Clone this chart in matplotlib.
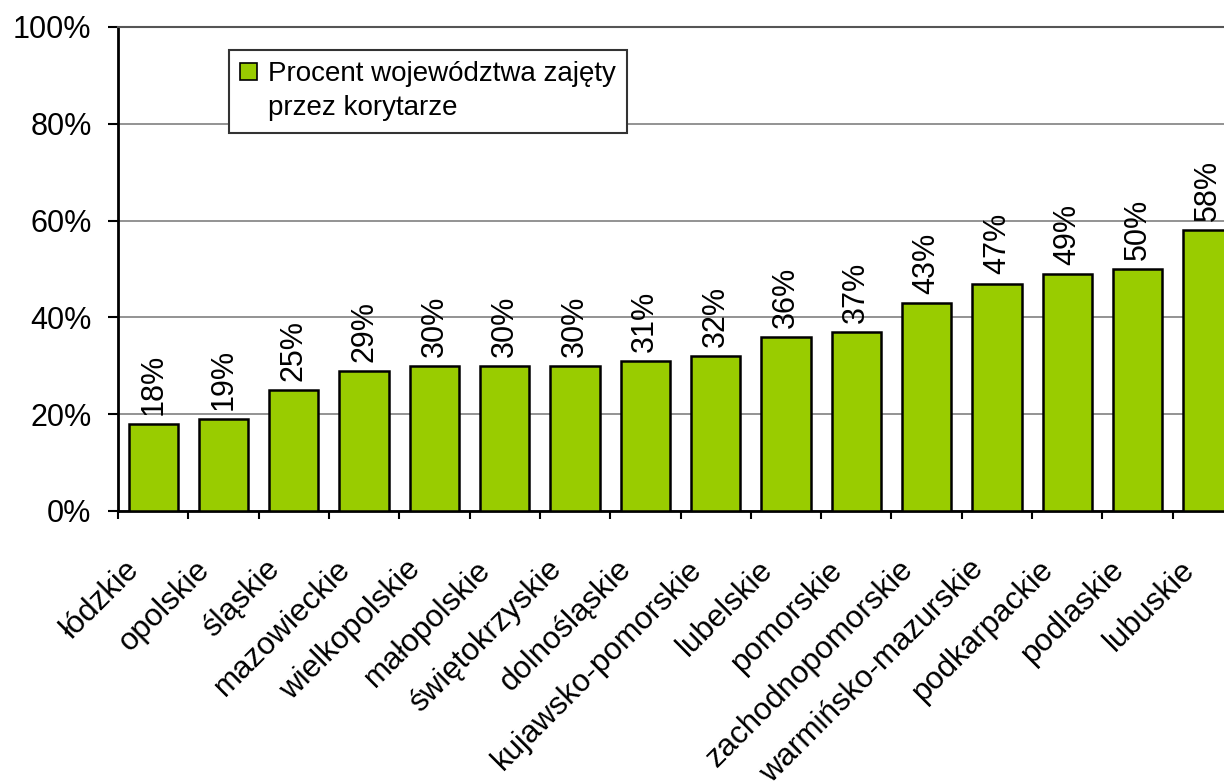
import matplotlib.pyplot as plt
import numpy as np
from matplotlib.patches import Patch
from matplotlib.transforms import offset_copy
from matplotlib.ticker import FuncFormatter

plt.rcParams['font.family'] = ['Liberation Sans', 'DejaVu Sans']

# województwa i udział powierzchni zajętej przez korytarze (%)
regions = ['łódzkie', 'opolskie', 'śląskie', 'mazowieckie', 'wielkopolskie',
           'małopolskie', 'świętokrzyskie', 'dolnośląskie', 'kujawsko-pomorskie',
           'lubelskie', 'pomorskie', 'zachodnopomorskie', 'warmińsko-mazurskie',
           'podkarpackie', 'podlaskie', 'lubuskie']
share = [18, 19, 25, 29, 30, 30, 30, 31, 32, 36, 37, 43, 47, 49, 50, 58]
legend_lines = ['Procent województwa zajęty', 'przez korytarze']

W, H = 1224, 782
fig = plt.figure(figsize=(W / 100, H / 100), dpi=100)
# prawa krawędź wykresu wychodzi poza obraz (ostatni słupek ucięty)
ax = fig.add_axes([118 / W, (H - 511) / H, 1125 / W, (511 - 27) / H])

x = np.arange(len(regions))
bars = ax.bar(x, share, width=0.7, color='#99CC00', edgecolor='black',
              linewidth=1.8, zorder=3)

for xi, v in zip(x, share):
    ax.annotate(f'{v}%', (xi, v), xytext=(0, 6.5), textcoords='offset points',
                rotation=90, ha='center', va='bottom', fontsize=22, zorder=4)

ax.set_xlim(-0.5, len(regions) - 0.5)
ax.set_ylim(0, 100)
ax.set_yticks(np.arange(0, 101, 20))
ax.yaxis.set_major_formatter(FuncFormatter(lambda v, p: f'{v:.0f}%'))
ax.tick_params(axis='y', direction='out', length=7, width=1.5, pad=12,
               labelsize=22)
ax.grid(axis='y', color='#8a8a8a', linewidth=1.3, zorder=0)

# znaczniki osi X na granicach kategorii, etykiety rysowane osobno
ax.set_xticks(np.arange(len(regions) + 1) - 0.5)
ax.set_xticklabels([])
ax.tick_params(axis='x', direction='out', length=6, width=1.5)

trans = offset_copy(ax.get_xaxis_transform(), fig=fig, x=-18, y=-54,
                    units='dots')
for xi, name in zip(x, regions):
    ax.text(xi, 0, name, transform=trans, rotation=45, ha='right',
            va='center', rotation_mode='anchor', fontsize=22.5)

for side in ['left', 'bottom']:
    ax.spines[side].set_linewidth(2)
    ax.spines[side].set_color('black')
ax.spines['top'].set_color('#555555')
ax.spines['top'].set_linewidth(1.5)
ax.spines['right'].set_visible(False)

blank = Patch(facecolor='none', edgecolor='none')
leg = ax.legend([bars, blank], legend_lines, loc='upper left',
                bbox_to_anchor=(229 / W, 1 - 50 / H),
                bbox_transform=fig.transFigure, borderaxespad=0,
                fontsize=20, fancybox=False, framealpha=1,
                edgecolor='#333333', handlelength=0.6, handleheight=0.6,
                handletextpad=0.4, borderpad=0.4, labelspacing=0.3)
leg.get_frame().set_linewidth(1.5)
for h in leg.legend_handles[:1]:
    h.set_linewidth(1.2)

fig.savefig('out.png', dpi=100)
